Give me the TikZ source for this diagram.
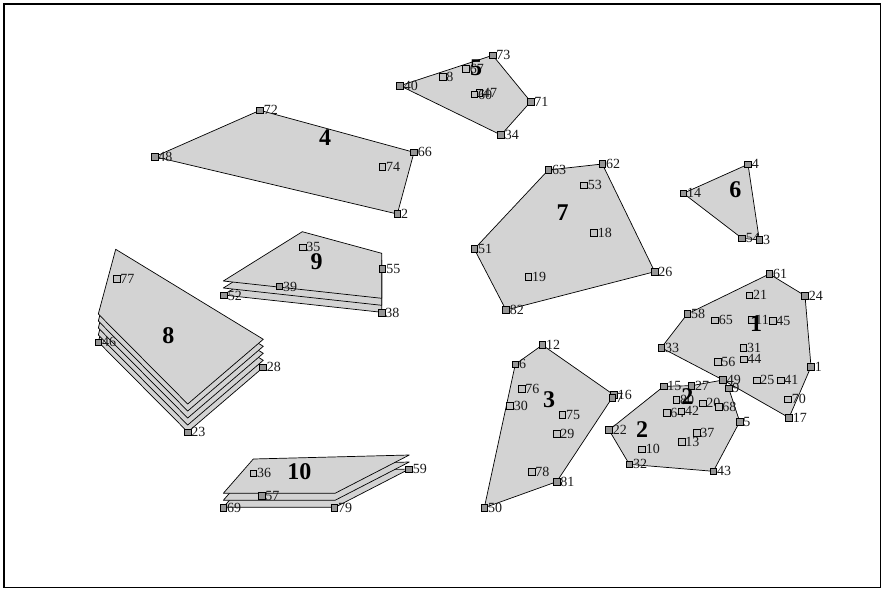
\documentclass[tikz,border=0pt]{standalone}
\usepackage{fontspec}
\usetikzlibrary{calc}
\setmainfont{Liberation Serif}
\definecolor{polyfill}{RGB}{211,211,211}
\definecolor{mkdark}{RGB}{150,150,150}
\definecolor{mklight}{RGB}{195,195,195}
\newcommand\vpt[2]{\node[mk,fill=mkdark,label={[lb]right:#2}] (p#1) at (v#1) {};}
\newcommand\ipt[2]{\node[mk,fill=mklight,label={[lb]right:#2}] (p#1) at (v#1) {};}
\begin{document}
\begin{tikzpicture}[x=1pt,y=-1pt,
  mk/.style={draw=black,minimum size=6.5pt,inner sep=0pt,line width=0.6pt,label distance=2.2pt},
  lb/.style={font=\fontsize{14}{14}\selectfont,inner sep=0pt,text=black!90},
  poly/.style={draw=black,fill=polyfill,line width=0.7pt,line join=round},
  big/.style={font=\fontsize{24}{24}\selectfont\bfseries,inner sep=0pt}]
\useasboundingbox (0,0) rectangle (882,589);
\node[draw=black,line width=1.5pt,minimum width=876.5pt,minimum height=583.5pt,inner sep=0pt,anchor=north west] (frame) at (3,3) {};
% ---- coordinates
% cluster 5
\coordinate (v40) at (400,85.7); \coordinate (v73) at (492.7,55.3);
\coordinate (v71) at (530.7,101.7); \coordinate (v34) at (501,135);
\coordinate (v8) at (442.7,76.7); \coordinate (v67) at (466,69);
\coordinate (v47) at (479.3,92.7); \coordinate (v60) at (474.3,94.5);
% cluster 4
\coordinate (v48) at (154.7,156.7); \coordinate (v72) at (260,110.3);
\coordinate (v66) at (414,152.3); \coordinate (v2) at (397.3,214);
\coordinate (v74) at (382.3,166.7);
% cluster 7
\coordinate (v63) at (548.3,170); \coordinate (v62) at (602.3,164);
\coordinate (v26) at (654.7,271.7); \coordinate (v82) at (506,310);
\coordinate (v51) at (474.3,249); \coordinate (v53) at (584,185.3);
\coordinate (v18) at (594,233); \coordinate (v19) at (528.3,276.7);
% cluster 6
\coordinate (v4) at (748,164.3); \coordinate (v14) at (683.3,193.3);
\coordinate (v54) at (742,238.3); \coordinate (v3) at (759.3,240);
% cluster 1
\coordinate (v61) at (769.3,274); \coordinate (v24) at (805,295.7);
\coordinate (v1) at (811,366.7); \coordinate (v17) at (789,417.7);
\coordinate (v49) at (723,380); \coordinate (v33) at (661.3,347.7);
\coordinate (v58) at (687.3,314);
\coordinate (v21) at (749.3,295.3); \coordinate (v65) at (715,320.3);
\coordinate (v11) at (751.7,320); \coordinate (v45) at (772.7,321);
\coordinate (v31) at (743.3,347.7); \coordinate (v44) at (743.7,359.3);
\coordinate (v56) at (717.7,361.7); \coordinate (v25) at (756.7,380.3);
\coordinate (v41) at (780.7,380.3); \coordinate (v70) at (788,399.3);
% cluster 2
\coordinate (v15) at (663.7,386.3); \coordinate (v27) at (691.3,385.7);
\coordinate (v9) at (728.7,388.3); \coordinate (v5) at (739.7,421.7);
\coordinate (v43) at (713.3,471.3); \coordinate (v32) at (629.3,464.3);
\coordinate (v22) at (609,430);
\coordinate (v80) at (676.3,400); \coordinate (v20) at (702.7,403.3);
\coordinate (v68) at (718.7,406.7); \coordinate (v64) at (666.7,413);
\coordinate (v42) at (681.3,411.3); \coordinate (v37) at (696.7,432.7);
\coordinate (v13) at (681.7,441.7); \coordinate (v10) at (642,449.3);
% cluster 3
\coordinate (v12) at (542.3,345); \coordinate (v6) at (515.3,364.3);
\coordinate (v16) at (614,395); \coordinate (v7) at (612.3,397.7);
\coordinate (v81) at (556.7,481.7); \coordinate (v50) at (484.3,507.7);
\coordinate (v76) at (521.7,388.7); \coordinate (v30) at (510,405.7);
\coordinate (v75) at (562.3,415); \coordinate (v29) at (556.7,434);
\coordinate (v78) at (531.7,471.7);
% cluster 8 (top layer)
\coordinate (a1) at (115.7,249.3); \coordinate (a2) at (263.3,339.3);
\coordinate (a3) at (187.7,404); \coordinate (a4) at (98.3,314);
\coordinate (v77) at (116.7,279); \coordinate (v46) at (98.3,342.3);
\coordinate (v28) at (263,367.3); \coordinate (v23) at (187.7,432.3);
% cluster 9 (top layer)
\coordinate (b1) at (302.3,231.7); \coordinate (b2) at (381.7,253.3);
\coordinate (b3) at (381.7,298.3); \coordinate (b4) at (223.3,281);
\coordinate (v35) at (302.7,247.3); \coordinate (v55) at (382.5,269);
\coordinate (v39) at (279.3,286.5); \coordinate (v52) at (224,295.5);
\coordinate (v38) at (381.7,312.8);
% cluster 10 (top layer)
\coordinate (c1) at (253.3,459); \coordinate (c2) at (409.3,455);
\coordinate (c3) at (335,493.3); \coordinate (c4) at (223.3,493.3);
\coordinate (v36) at (253.3,473.3); \coordinate (v57) at (261.7,496);
\coordinate (v59) at (409,469.3); \coordinate (v79) at (334.3,507.7);
\coordinate (v69) at (223.3,507.7);
% ---- polygons
\draw[poly] (v40) -- (v73) -- (v71) -- (v34) -- cycle;
\draw[poly] (v48) -- (v72) -- (v66) -- (v2) -- cycle;
\draw[poly] (v63) -- (v62) -- (v26) -- (v82) -- (v51) -- cycle;
\draw[poly] (v4) -- (v3) -- (v54) -- (v14) -- cycle;
\draw[poly] (v61) -- (v24) -- (v1) -- (v17) -- (v49) -- (v33) -- (v58) -- cycle;
\draw[poly] (v15) -- (v27) -- (v49) -- (v9) -- (v5) -- (v43) -- (v32) -- (v22) -- cycle;
\draw[poly] (v12) -- (v16) -- (v81) -- (v50) -- (v6) -- cycle;
\foreach \s in {28,21,14,7,0}{
  \draw[poly] ([yshift=-\s pt]a1) -- ([yshift=-\s pt]a2) -- ([yshift=-\s pt]a3) -- ([yshift=-\s pt]a4) -- cycle;}
\foreach \s in {14,7,0}{
  \draw[poly] ([yshift=-\s pt]b1) -- ([yshift=-\s pt]b2) -- ([yshift=-\s pt]b3) -- ([yshift=-\s pt]b4) -- cycle;}
\foreach \s in {14,7,0}{
  \draw[poly] ([yshift=-\s pt]c1) -- ([yshift=-\s pt]c2) -- ([yshift=-\s pt]c3) -- ([yshift=-\s pt]c4) -- cycle;}
% ---- markers
\vpt{40}{40}\vpt{73}{73}\vpt{71}{71}\vpt{34}{34}
\ipt{8}{8}\ipt{67}{67}\ipt{47}{47}\ipt{60}{60}
\vpt{48}{48}\vpt{72}{72}\vpt{66}{66}\vpt{2}{2}\ipt{74}{74}
\vpt{63}{63}\vpt{62}{62}\vpt{26}{26}\vpt{82}{82}\vpt{51}{51}
\ipt{53}{53}\ipt{18}{18}\ipt{19}{19}
\vpt{4}{4}\vpt{14}{14}\vpt{54}{54}\vpt{3}{3}
\vpt{61}{61}\vpt{24}{24}\vpt{1}{1}\vpt{17}{17}\vpt{33}{33}\vpt{58}{58}
\ipt{21}{21}\ipt{65}{65}\ipt{11}{11}\ipt{45}{45}\ipt{31}{31}\ipt{44}{44}
\ipt{56}{56}\ipt{25}{25}\ipt{41}{41}\ipt{70}{70}
\vpt{15}{15}\vpt{27}{27}\vpt{49}{49}\vpt{9}{9}\vpt{5}{5}\vpt{43}{43}\vpt{32}{32}\vpt{22}{22}
\ipt{80}{80}\ipt{20}{20}\ipt{68}{68}\ipt{64}{64}\ipt{42}{42}\ipt{37}{37}\ipt{13}{13}\ipt{10}{10}
\vpt{12}{12}\vpt{6}{6}\vpt{16}{16}\vpt{7}{7}\vpt{81}{81}\vpt{50}{50}
\ipt{76}{76}\ipt{30}{30}\ipt{75}{75}\ipt{29}{29}\ipt{78}{78}
\ipt{77}{77}\vpt{46}{46}\vpt{28}{28}\vpt{23}{23}
\ipt{35}{35}\vpt{55}{55}\vpt{39}{39}\vpt{52}{52}\vpt{38}{38}
\ipt{36}{36}\vpt{57}{57}\vpt{59}{59}\vpt{79}{79}\vpt{69}{69}
% ---- cluster numbers
\node[big] (n4) at (325,138) {4};
\node[big] (n5) at (476,68) {5};
\node[big] (n7) at (562.7,212.3) {7};
\node[big] (n6) at (735.3,190) {6};
\node[big] (n1) at (756,323.3) {1};
\node[big] (n2) at (642,430) {2};
\node[big] (n2b) at (687.3,396.7) {2};
\node[big] (n3) at (549,400) {3};
\node[big] (n8) at (168.3,336) {8};
\node[big] (n9) at (316.7,261.7) {9};
\node[big] (n10) at (299.3,471.7) {10};
\end{tikzpicture}
\end{document}
